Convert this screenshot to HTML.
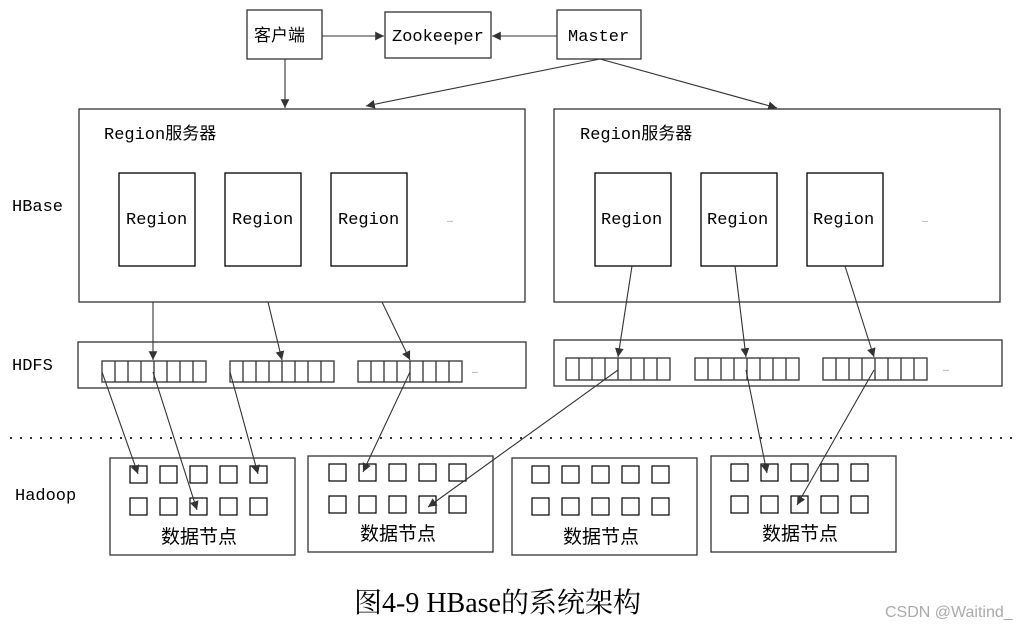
<!DOCTYPE html>
<html><head><meta charset="utf-8"><style>
html,body{margin:0;padding:0;background:#fff;}
svg{display:block;}
text{font-family:"Liberation Mono","Noto Sans CJK SC",monospace;font-size:17px;fill:#000;}
.c{font-family:"Liberation Serif","Noto Serif CJK SC",serif;}
</style></head><body>
<svg width="1035" height="629" viewBox="0 0 1035 629" xmlns="http://www.w3.org/2000/svg">
<defs>
<marker id="a" viewBox="0 0 10 10" refX="10" refY="5" markerWidth="8" markerHeight="8" orient="auto"><path d="M0,0 L10,5 L0,10 z" fill="#333"/></marker>
</defs>
<g fill="none" stroke="#333" stroke-width="1.3">
<rect x="247" y="10" width="75" height="49"/>
<rect x="385" y="12" width="106" height="46"/>
<rect x="557" y="10" width="84" height="49"/>
<rect x="79" y="109" width="446" height="193"/>
<rect x="554" y="109" width="446" height="193"/>
<rect x="119" y="173" width="76" height="93" stroke="#000"/>
<rect x="225" y="173" width="76" height="93" stroke="#000"/>
<rect x="331" y="173" width="76" height="93" stroke="#000"/>
<rect x="595" y="173" width="76" height="93" stroke="#000"/>
<rect x="701" y="173" width="76" height="93" stroke="#000"/>
<rect x="807" y="173" width="76" height="93" stroke="#000"/>
<rect x="78" y="342" width="448" height="46"/>
<rect x="554" y="340" width="448" height="46"/>
<rect x="102" y="361" width="104" height="21"/><path d="M115,361v21M128,361v21M141,361v21M154,361v21M167,361v21M180,361v21M193,361v21"/>
<rect x="230" y="361" width="104" height="21"/><path d="M243,361v21M256,361v21M269,361v21M282,361v21M295,361v21M308,361v21M321,361v21"/>
<rect x="358" y="361" width="104" height="21"/><path d="M371,361v21M384,361v21M397,361v21M410,361v21M423,361v21M436,361v21M449,361v21"/>
<rect x="566" y="358" width="104" height="22"/><path d="M579,358v22M592,358v22M605,358v22M618,358v22M631,358v22M644,358v22M657,358v22"/>
<rect x="695" y="358" width="104" height="22"/><path d="M708,358v22M721,358v22M734,358v22M747,358v22M760,358v22M773,358v22M786,358v22"/>
<rect x="823" y="358" width="104" height="22"/><path d="M836,358v22M849,358v22M862,358v22M875,358v22M888,358v22M901,358v22M914,358v22"/>
<rect x="110" y="458" width="185" height="97"/>
<rect x="308" y="456" width="185" height="96"/>
<rect x="512" y="458" width="185" height="97"/>
<rect x="711" y="456" width="185" height="96"/>
</g>
<g fill="none" stroke="#000" stroke-width="1.2">
<rect x="130" y="466" width="17" height="17"/><rect x="160" y="466" width="17" height="17"/><rect x="190" y="466" width="17" height="17"/><rect x="220" y="466" width="17" height="17"/><rect x="250" y="466" width="17" height="17"/>
<rect x="130" y="498" width="17" height="17"/><rect x="160" y="498" width="17" height="17"/><rect x="190" y="498" width="17" height="17"/><rect x="220" y="498" width="17" height="17"/><rect x="250" y="498" width="17" height="17"/>
<rect x="329" y="464" width="17" height="17"/><rect x="359" y="464" width="17" height="17"/><rect x="389" y="464" width="17" height="17"/><rect x="419" y="464" width="17" height="17"/><rect x="449" y="464" width="17" height="17"/>
<rect x="329" y="496" width="17" height="17"/><rect x="359" y="496" width="17" height="17"/><rect x="389" y="496" width="17" height="17"/><rect x="419" y="496" width="17" height="17"/><rect x="449" y="496" width="17" height="17"/>
<rect x="532" y="466" width="17" height="17"/><rect x="562" y="466" width="17" height="17"/><rect x="592" y="466" width="17" height="17"/><rect x="622" y="466" width="17" height="17"/><rect x="652" y="466" width="17" height="17"/>
<rect x="532" y="498" width="17" height="17"/><rect x="562" y="498" width="17" height="17"/><rect x="592" y="498" width="17" height="17"/><rect x="622" y="498" width="17" height="17"/><rect x="652" y="498" width="17" height="17"/>
<rect x="731" y="464" width="17" height="17"/><rect x="761" y="464" width="17" height="17"/><rect x="791" y="464" width="17" height="17"/><rect x="821" y="464" width="17" height="17"/><rect x="851" y="464" width="17" height="17"/>
<rect x="731" y="496" width="17" height="17"/><rect x="761" y="496" width="17" height="17"/><rect x="791" y="496" width="17" height="17"/><rect x="821" y="496" width="17" height="17"/><rect x="851" y="496" width="17" height="17"/>
</g>
<line x1="10" y1="438" x2="1018" y2="438" stroke="#333" stroke-width="2" stroke-dasharray="2,8"/>
<g stroke="#333" stroke-width="1.1" fill="none" marker-end="url(#a)">
<line x1="322" y1="36" x2="384" y2="36"/>
<line x1="557" y1="36" x2="492" y2="36"/>
<line x1="285" y1="59" x2="285" y2="108"/>
<line x1="600" y1="59" x2="366" y2="106"/>
<line x1="600" y1="59" x2="777" y2="108"/>
<line x1="153" y1="302" x2="153" y2="360"/>
<line x1="268" y1="302" x2="282" y2="360"/>
<line x1="382" y1="302" x2="410" y2="360"/>
<line x1="632" y1="266" x2="618" y2="357"/>
<line x1="735" y1="266" x2="746" y2="357"/>
<line x1="845" y1="266" x2="874" y2="357"/>
<line x1="102" y1="372" x2="138" y2="474"/>
<line x1="153" y1="372" x2="197" y2="510"/>
<line x1="230" y1="372" x2="258" y2="474"/>
<line x1="410" y1="372" x2="363" y2="472"/>
<line x1="618" y1="370" x2="428" y2="507"/>
<line x1="746" y1="370" x2="767" y2="473"/>
<line x1="874" y1="370" x2="797" y2="505"/>
</g>
<text x="254" y="41">客户端</text>
<text x="392" y="41">Zookeeper</text>
<text x="568" y="41">Master</text>
<text x="104" y="139">Region服务器</text>
<text x="580" y="139">Region服务器</text>
<text x="126" y="224">Region</text>
<text x="232" y="224">Region</text>
<text x="338" y="224">Region</text>
<text x="601" y="224">Region</text>
<text x="707" y="224">Region</text>
<text x="813" y="224">Region</text>
<text x="447" y="222" style="font-size:10px;fill:#777">…</text>
<text x="922" y="222" style="font-size:10px;fill:#777">…</text>
<text x="472" y="373" style="font-size:10px;fill:#777">…</text>
<text x="943" y="371" style="font-size:10px;fill:#777">…</text>
<text x="12" y="211">HBase</text>
<text x="12" y="370">HDFS</text>
<text x="15" y="500">Hadoop</text>
<text x="161" y="543" style="font-size:19px">数据节点</text>
<text x="360" y="540" style="font-size:19px">数据节点</text>
<text x="563" y="543" style="font-size:19px">数据节点</text>
<text x="762" y="540" style="font-size:19px">数据节点</text>
<text class="c" x="354" y="612" style="font-size:28px;font-family:'Liberation Serif','Noto Serif CJK SC',serif">图4-9 HBase的系统架构</text>
<text x="885" y="617" style="font-family:'Liberation Sans',sans-serif;font-size:16px;fill:#aaa">CSDN @Waitind_</text>
</svg>
</body></html>
